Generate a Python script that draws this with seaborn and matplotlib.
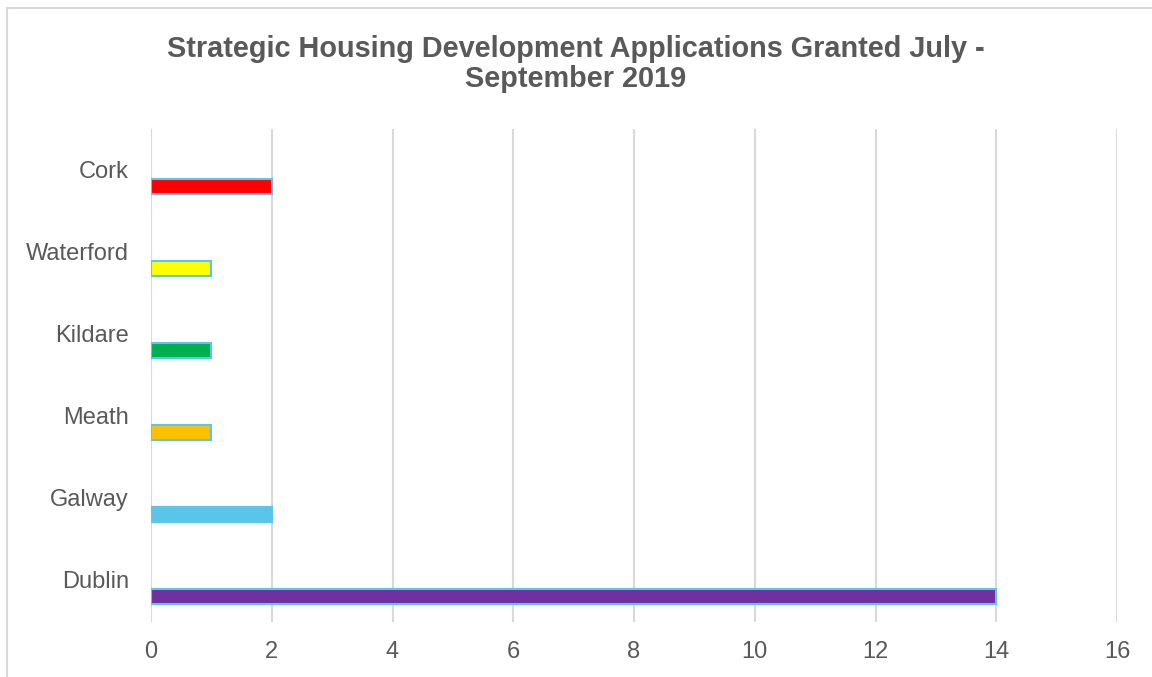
import matplotlib
matplotlib.use("Agg")
import matplotlib.pyplot as plt
import matplotlib.transforms as mtransforms
from matplotlib.patches import Rectangle
import pandas as pd
import seaborn as sns

# Data
counties = ["Cork", "Waterford", "Kildare", "Meath", "Galway", "Dublin"]
granted = [2, 1, 1, 1, 2, 14]
bar_colors = ["#FF0000", "#FFFF00", "#00B050", "#FFC000", "#5BC5E8", "#7030A0"]
x_ticks = [0, 2, 4, 6, 8, 10, 12, 14, 16]

title = "Strategic Housing Development Applications Granted July -\nSeptember 2019"
text_color = "#595959"
grid_color = "#D9D9D9"

sns.set_style("white")
plt.rcParams["font.family"] = ["Liberation Sans", "DejaVu Sans"]

df = pd.DataFrame({"County": counties, "Granted": granted})

fig = plt.figure(figsize=(11.52, 6.77), dpi=100)
ax = fig.add_axes([151 / 1152, 1 - 622 / 677, (1117 - 151) / 1152, (622 - 129) / 677])

sns.barplot(data=df, y="County", x="Granted", hue="County", palette=bar_colors,
            orient="h", width=0.19, edgecolor="#5BC5EB", linewidth=1.5,
            saturation=1, legend=False, ax=ax, zorder=3)

ax.set_xlim(0, 16)
ax.set_xticks(x_ticks)
ax.set_ylim(5.31, -0.70)
ax.set_xlabel("")
ax.set_ylabel("")
ax.grid(axis="x", color=grid_color, linewidth=1.5, zorder=0)
ax.grid(axis="y", visible=False)
ax.set_axisbelow(True)
for side in ["top", "right", "bottom", "left"]:
    ax.spines[side].set_visible(False)

ax.tick_params(axis="x", length=0, pad=14, labelsize=17, labelcolor=text_color)
ax.tick_params(axis="y", length=0, pad=16, labelsize=17, labelcolor=text_color)

# category labels sit above their bars, like the Excel original
shift = mtransforms.ScaledTranslation(0, 17 / 100, fig.dpi_scale_trans)
for lab in ax.get_yticklabels():
    lab.set_transform(lab.get_transform() + shift)

fig.text(0.5, 1 - 64 / 677, title, ha="center", va="center", fontsize=20.8,
         fontweight="bold", color=text_color, linespacing=1.1)

# chart frame
fig.patches.append(Rectangle((7 / 1152, -0.05), 1.1, 1.05 - 8 / 677,
                             transform=fig.transFigure, fill=False,
                             edgecolor=grid_color, linewidth=1.5))

fig.savefig("out.png", dpi=100, facecolor="white")
